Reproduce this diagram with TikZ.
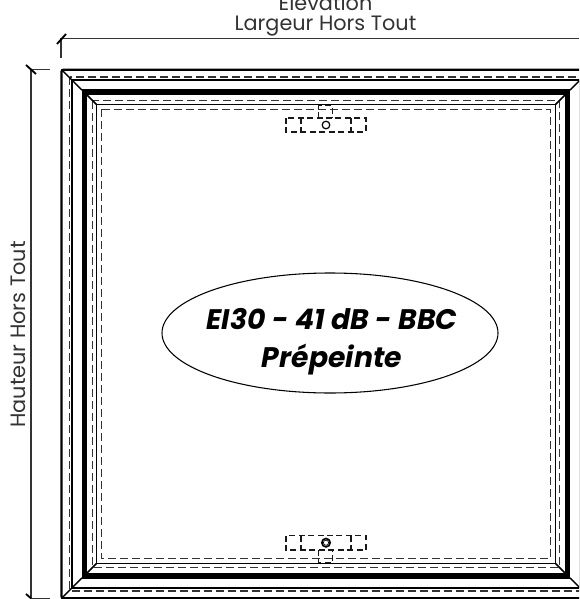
\documentclass[tikz,border=0pt]{standalone}
\usepackage{fontspec}
\usetikzlibrary{shapes.geometric}
\setmainfont{Poppins}
\tikzset{
  px/.style={x=0.75pt,y=-0.75pt},
  heavy/.style={line width=1.7pt,black},
  solidl/.style={line width=1.1pt,black},
  dashl/.style={line width=0.8pt,black!80,dash pattern=on 6pt off 3pt},
  hw/.style={line width=0.85pt,black!90,dash pattern=on 4.5pt off 2.6pt},
  dim/.style={line width=0.85pt,black!80},
  tick/.style={line width=1.4pt,black},
  lbl/.style={font=\fontsize{15.6pt}{18pt}\selectfont,text=black!80,inner sep=0pt},
  big/.style={font=\fontsize{21.2pt}{28.5pt}\selectfont\bfseries\itshape,align=center,text=black,inner sep=0pt}
}
\newcommand{\frm}[3][solidl]{\draw[#1] (#2,#3) rectangle (652-#2,668-#3);}
\begin{document}
\begin{tikzpicture}[px]
\useasboundingbox (0,0) rectangle (579,599);
\clip (0,0) rectangle (579,599);
\fill[white] (0,0) rectangle (579,599);
% frame
\draw[heavy,rounded corners=1.5pt] (61.5,69.7) rectangle (590.5,598.3);
\frm[dashl]{69.5}{77}
\frm{72}{79.8}
\draw[line width=4.2pt,black] (84.5,92.2) rectangle (567.5,575.8);
\frm[dashl]{92.7}{100.7}
\frm{96.3}{104.3}
\frm[dashl]{101.7}{109.3}
% mitres
\foreach \xa/\ya/\xb/\yb in {61.5/69.7/82/90.2, 87/95/96.3/104.3}{
  \draw[solidl] (\xa,\ya) -- (\xb,\yb);
  \draw[solidl] (652-\xa,\ya) -- (652-\xb,\yb);
  \draw[solidl] (\xa,668-\ya) -- (\xb,668-\yb);
  \draw[solidl] (652-\xa,668-\ya) -- (652-\xb,668-\yb);
}
% top hardware
\draw[hw] (286,118) rectangle (366,132);
\draw[hw] (301,118) -- (301,132) (351,118) -- (351,132);
\draw[hw] (318.7,118) -- (318.7,105.7) -- (332.7,105.7) -- (332.7,118);
\draw[line width=0.9pt] (326,125) circle (3.8);
% bottom hardware
\draw[hw] (286,535.5) rectangle (366,550);
\draw[hw] (301,535.5) -- (301,550) (351,535.5) -- (351,550);
\draw[hw] (318.7,550) -- (318.7,562.7) -- (332.7,562.7) -- (332.7,550);
\draw[line width=1.2pt] (326,542.7) circle (4.2);
\draw[line width=0.5pt] (326,542.7) circle (2.6);
% ellipse and text
\node[draw=black,line width=0.8pt,ellipse,minimum width=252pt,minimum height=90pt,inner sep=0pt] (el) at (330,333) {};
\node[big] (eltext) at (332,342) {EI30 - 41 dB - BBC\\Prépeinte};
% dimensions
\coordinate (wa) at (61,58);
\coordinate (wb) at (61,38.5);
\coordinate (wc) at (579,38.5);
\coordinate (ha) at (50,69.7);
\coordinate (hb) at (31,69.7);
\coordinate (hc) at (31,598.3);
\coordinate (hd) at (50,598.3);
\draw[dim] (wa) -- (wb) -- (wc);
\draw[dim] (ha) -- (hb) -- (hc) -- (hd);
\draw[tick] (57,44) -- (66,34);
\draw[tick] (26,65) -- (36,74);
\draw[tick] (26,594) -- (31,598.3);
\node[lbl] (width) at (325.5,26) {Largeur Hors Tout};
\node[lbl] (elev) at (325.5,2) {Elévation};
\node[lbl,rotate=90] (height) at (18,334.5) {Hauteur Hors Tout};
\end{tikzpicture}
\end{document}
